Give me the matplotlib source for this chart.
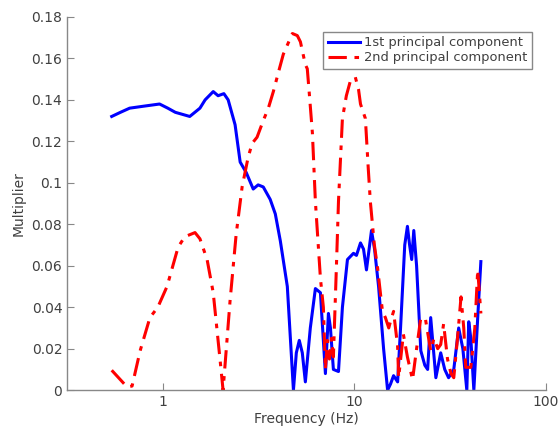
import numpy as np
import matplotlib
matplotlib.use('Agg')
import matplotlib.pyplot as plt
from matplotlib.ticker import FixedLocator, NullLocator, FuncFormatter

# 1st principal component
freq_pc1 = [0.54, 0.60, 0.67, 0.80, 0.96, 1.06, 1.16, 1.38, 1.56, 1.66, 1.83, 1.94, 2.08, 2.19,
            2.38, 2.53, 2.72, 2.96, 3.14, 3.34, 3.63, 3.86, 4.10, 4.46, 4.80, 4.97, 5.15, 5.34,
            5.54, 5.88, 6.25, 6.64, 7.05, 7.31, 7.49, 7.76, 8.25, 8.65, 9.19, 9.88, 10.24, 10.75,
            11.15, 11.55, 12.27, 12.73, 13.36, 14.19, 14.89, 15.43, 16.0, 16.8, 17.4, 18.3, 18.9,
            19.4, 19.9, 20.4, 21.1, 22.2, 23.3, 24.1, 25.0, 26.6, 28.2, 29.6, 31.0, 33.0, 35.0,
            36.8, 38.6, 39.5, 40.5, 42.0, 44.0, 45.7]
pc1 = [0.132, 0.134, 0.136, 0.137, 0.138, 0.136, 0.134, 0.132, 0.136, 0.140, 0.144, 0.142, 0.143, 0.140,
       0.128, 0.110, 0.105, 0.097, 0.099, 0.098, 0.092, 0.085, 0.072, 0.050, 0.000, 0.018, 0.024, 0.018,
       0.004, 0.030, 0.049, 0.047, 0.008, 0.037, 0.030, 0.010, 0.009, 0.040, 0.063, 0.066, 0.065, 0.071,
       0.068, 0.058, 0.077, 0.068, 0.050, 0.020, 0.000, 0.003, 0.007, 0.004, 0.030, 0.070, 0.079,
       0.070, 0.063, 0.077, 0.060, 0.019, 0.012, 0.010, 0.035, 0.006, 0.018, 0.010, 0.006, 0.010, 0.030,
       0.020, 0.000, 0.033, 0.025, 0.000, 0.035, 0.062]

# 2nd principal component
freq_pc2 = [0.54, 0.60, 0.65, 0.69, 0.76, 0.855, 0.94, 1.05, 1.20, 1.30, 1.47, 1.56, 1.70, 1.83,
            1.99, 2.06, 2.24, 2.41, 2.59, 2.78, 2.92, 3.10, 3.34, 3.55, 3.77, 4.00, 4.25, 4.74,
            5.03, 5.22, 5.54, 5.67, 5.81, 6.03, 6.25, 6.64, 6.88, 7.05, 7.22, 7.40, 7.58, 7.76,
            8.05, 8.25, 8.65, 9.07, 9.51, 10.1, 10.5, 10.75, 11.4, 11.8, 12.1, 12.7, 13.2, 14.0,
            14.5, 15.1, 15.4, 16.0, 16.8, 17.0, 18.0, 18.9, 20.1, 21.1, 22.2, 23.5, 25.0, 26.0,
            27.2, 28.2, 29.2, 30.6, 31.9, 33.0, 34.5, 36.0, 37.2, 38.1, 40.5, 42.5, 44.0, 45.7]
pc2 = [0.0096, 0.005, 0.0015, 0.002, 0.019, 0.035, 0.040, 0.050, 0.069, 0.074, 0.076, 0.073, 0.063, 0.047,
       0.014, 0.000, 0.043, 0.075, 0.098, 0.112, 0.119, 0.122, 0.130, 0.136, 0.144, 0.153, 0.162, 0.172,
       0.171, 0.168, 0.157, 0.155, 0.143, 0.124, 0.091, 0.054, 0.040, 0.010, 0.024, 0.015, 0.025, 0.016,
       0.060, 0.091, 0.131, 0.142, 0.149, 0.151, 0.145, 0.138, 0.131, 0.107, 0.091, 0.070, 0.059, 0.038,
       0.035, 0.030, 0.033, 0.038, 0.021, 0.006, 0.027, 0.016, 0.005, 0.020, 0.035, 0.034, 0.019, 0.025,
       0.020, 0.022, 0.032, 0.015, 0.008, 0.006, 0.025, 0.045, 0.030, 0.011, 0.011, 0.030, 0.058, 0.037]

x_ticks = [1, 10, 100]
y_ticks = [0, 0.02, 0.04, 0.06, 0.08, 0.1, 0.12, 0.14, 0.16, 0.18]

grey = '#404040'
fig = plt.figure(figsize=(5.6, 4.34), dpi=100)
ax = fig.add_axes([0.12, 0.101, 0.855, 0.860])

ax.plot(freq_pc1, pc1, color='#0000ff', lw=2.2, label='1st principal component')
ax.plot(freq_pc2, pc2, color='#ff0000', lw=2.2, ls=(0, (6, 2.5, 1.5, 2.5)), label='2nd principal component')

ax.set_xscale('log')
ax.set_xlim(10 ** -0.5, 100)
ax.set_ylim(0, 0.18)
ax.xaxis.set_major_locator(FixedLocator(x_ticks))
ax.xaxis.set_minor_locator(NullLocator())
ax.xaxis.set_major_formatter(FuncFormatter(lambda v, p: '%g' % v))
ax.set_yticks(y_ticks)
ax.yaxis.set_major_formatter(FuncFormatter(lambda v, p: '%g' % v))

for s in ['top', 'right']:
    ax.spines[s].set_visible(False)
for s in ['left', 'bottom']:
    ax.spines[s].set_color('#888888')
    ax.spines[s].set_linewidth(1.0)
ax.tick_params(direction='in', length=5, color='#888888', labelcolor=grey, labelsize=10)

ax.set_xlabel('Frequency (Hz)', color=grey, fontsize=10, labelpad=2)
ax.set_ylabel('Multiplier', color=grey, fontsize=10, labelpad=4)

leg = ax.legend(loc='upper right', bbox_to_anchor=(0.971, 0.96), fontsize=9.4, fancybox=False,
                framealpha=1, edgecolor='#888888', handlelength=2.5, borderpad=0.35,
                labelspacing=0.15, handletextpad=0.3, borderaxespad=0)
leg.get_frame().set_linewidth(1.0)
for t in leg.get_texts():
    t.set_color(grey)

fig.savefig('out.png', dpi=100)
